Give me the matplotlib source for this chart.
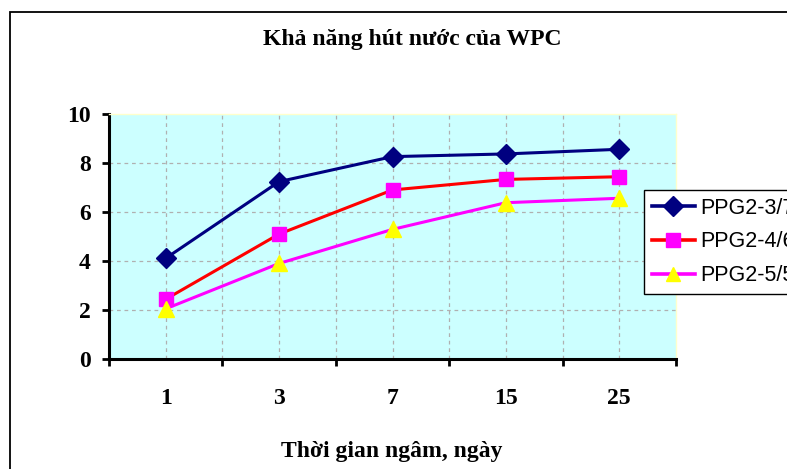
import matplotlib

matplotlib.use("Agg")
import matplotlib.pyplot as plt
from matplotlib.patches import Rectangle

# soaking time (days) and water uptake for the three PP/wood blends
DAYS = ["1", "3", "7", "15", "25"]
SERIES = ["PPG2-3/7", "PPG2-4/6", "PPG2-5/5"]
UPTAKE_37 = [4.11, 7.24, 8.26, 8.37, 8.56]
UPTAKE_46 = [2.44, 5.10, 6.90, 7.33, 7.44]
UPTAKE_55 = [2.05, 3.90, 5.29, 6.38, 6.56]

NAVY = "#000080"
RED = "#FF0000"
MAGENTA = "#FF00FF"
YELLOW = "#FFFF00"
CYAN_BG = "#CCFFFF"
SERIF = "Liberation Serif"
FS = 17

W, H = 787, 469
fig = plt.figure(figsize=(W / 100, H / 100), dpi=100)

# outer chart frame (runs off the right and bottom edges)
fig.patches.append(Rectangle((10 / W, -0.1), 1.2, 1 - 12 / H + 0.1, transform=fig.transFigure,
                             fill=False, edgecolor="black", linewidth=1.3))

L, R, B, T = 109, 676, 359, 114
ax = fig.add_axes([L / W, 1 - B / H, (R - L) / W, (B - T) / H])
ax.set_facecolor(CYAN_BG)

x = range(len(DAYS))
ax.plot(x, UPTAKE_37, color=NAVY, linewidth=2.2, marker="D", markersize=10,
        markerfacecolor=NAVY, markeredgecolor=NAVY, label=SERIES[0], zorder=3)
ax.plot(x, UPTAKE_46, color=RED, linewidth=2.2, marker="s", markersize=10,
        markerfacecolor=MAGENTA, markeredgecolor=MAGENTA, label=SERIES[1], zorder=3)
ax.plot(x, UPTAKE_55, color=MAGENTA, linewidth=2.2, marker="^", markersize=11,
        markerfacecolor=YELLOW, markeredgecolor=YELLOW, label=SERIES[2], zorder=3)

ax.set_xlim(-0.5, len(DAYS) - 0.5)
ax.set_ylim(0, 10)

# category boundaries carry the tick marks, labels sit at the centres
bounds = [i - 0.5 for i in range(len(DAYS) + 1)]
ax.set_xticks(bounds)
ax.set_xticklabels([])
ax.set_xticks(list(x), minor=True)
ax.set_xticklabels(DAYS, minor=True, fontfamily=SERIF, fontweight="bold", fontsize=FS)
ax.tick_params(axis="x", which="major", direction="out", length=5, width=2)
ax.tick_params(axis="x", which="minor", length=0, pad=21)

ax.set_yticks(range(0, 11, 2))
ax.set_yticklabels([str(v) for v in range(0, 11, 2)], fontfamily=SERIF,
                   fontweight="bold", fontsize=FS)
ax.tick_params(axis="y", direction="out", length=5, width=2, pad=8)

# dashed grid at every half category and at each y tick
for xv in [i * 0.5 - 0.5 for i in range(1, 2 * len(DAYS))]:
    ax.axvline(xv, color="#b0b0b0", linestyle=(0, (3, 3)), linewidth=0.9, zorder=1)
for yv in range(2, 10, 2):
    ax.axhline(yv, color="#b0b0b0", linestyle=(0, (3, 3)), linewidth=0.9, zorder=1)

for s in ("left", "bottom"):
    ax.spines[s].set_linewidth(2.2)
    ax.spines[s].set_color("black")
for s in ("top", "right"):
    ax.spines[s].set_color("#FFFFCC")
    ax.spines[s].set_linewidth(1.0)

fig.text(412 / W, 1 - 40 / H, "Khả năng hút nước của WPC", ha="center", va="center",
         fontfamily=SERIF, fontweight="bold", fontsize=FS)
fig.text(392 / W, 1 - 457 / H, "Thời gian ngâm, ngày", ha="center", va="baseline",
         fontfamily=SERIF, fontweight="bold", fontsize=FS)

leg = ax.legend(loc="upper left", bbox_to_anchor=(644 / W, 1 - 190 / H),
                bbox_transform=fig.transFigure, frameon=True, fancybox=False,
                framealpha=1, edgecolor="black", borderpad=0.35, labelspacing=0.6,
                handlelength=2.0, handletextpad=0.25, borderaxespad=0,
                prop={"family": "Liberation Sans", "size": 15.5})
leg.get_frame().set_linewidth(1.0)
for hl in leg.get_lines():
    hl.set_markersize(10)
    hl.set_linewidth(2.6)

fig.savefig("out.png", dpi=100, facecolor="white")
